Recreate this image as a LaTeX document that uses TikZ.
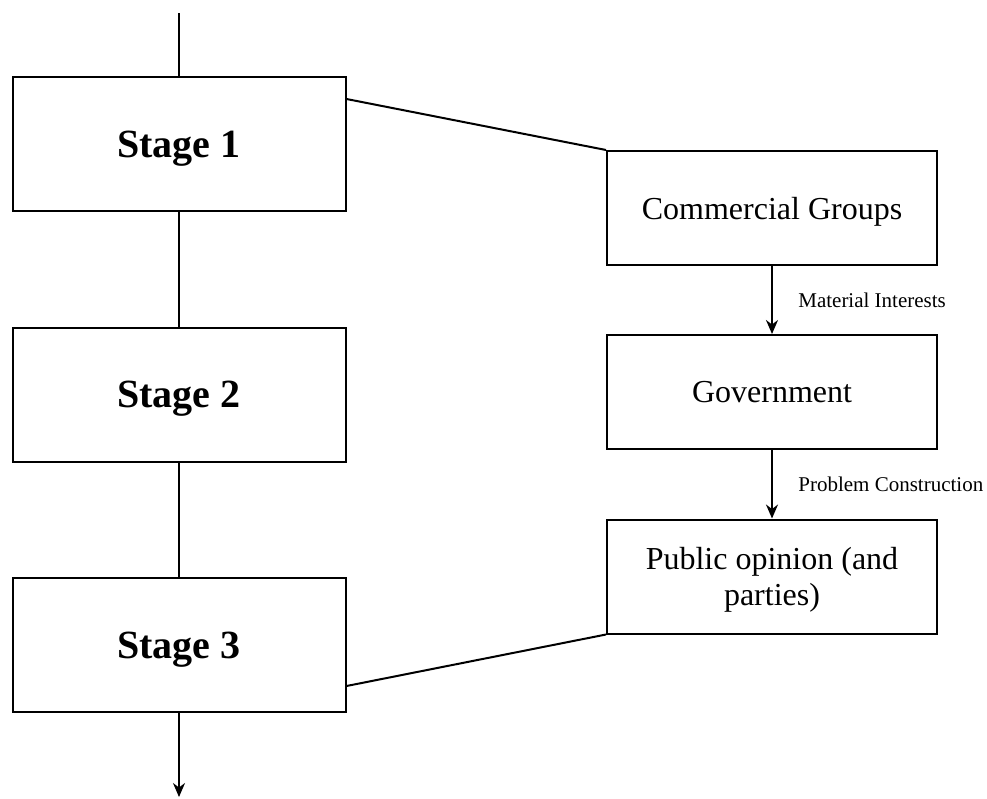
\documentclass[tikz,border=0pt]{standalone}
\usepackage{fontspec}
\setmainfont{Liberation Serif}
\usetikzlibrary{arrows.meta,positioning}

\begin{document}
\begin{tikzpicture}[
  x=1pt,y=-1pt,
  stagebox/.style={rectangle,draw,line width=2pt,minimum width=333pt,minimum height=134pt,text depth=0pt,font=\fontsize{40}{48}\selectfont\bfseries},
  actor/.style={rectangle,draw,line width=2pt,minimum width=330pt,minimum height=114pt,text depth=0pt,align=center,font=\fontsize{32}{36}\selectfont},
  flow/.style={line width=2pt},
  arr/.style={flow,-{Stealth[length=14pt,width=12pt]}},
  lbl/.style={font=\fontsize{21}{25}\selectfont}
]
  \useasboundingbox (0,0) rectangle (987,798);
  % stages on the left
  \node[stagebox] (s1) at (179,144)   {Stage 1};
  \node[stagebox] (s2) at (179,394.5) {Stage 2};
  \node[stagebox] (s3) at (179,645)   {Stage 3};
  \coordinate (top) at (179,13);
  \coordinate (bot) at (179,797);
  % actors on the right
  \node[actor] (cg) at (772,208)   {Commercial Groups};
  \node[actor] (gv) at (772,392)   {Government};
  \node[actor] (po) at (772,576.5) {Public opinion (and\\parties)};
  \draw[flow] (top) -- (s1);
  \draw[flow] (s1) -- (s2);
  \draw[flow] (s2) -- (s3);
  \draw[arr] (s3) -- (bot);
  \draw[arr] (cg) -- node[lbl,right=22pt] {Material Interests} (gv);
  \draw[arr] (gv) -- node[lbl,right=22pt] {Problem Construction} (po);
  \draw[flow] ([yshift=-23pt]s1.north east) -- (cg.north west);
  \draw[flow] ([yshift=27pt]s3.south east) -- (po.south west);
\end{tikzpicture}
\end{document}
